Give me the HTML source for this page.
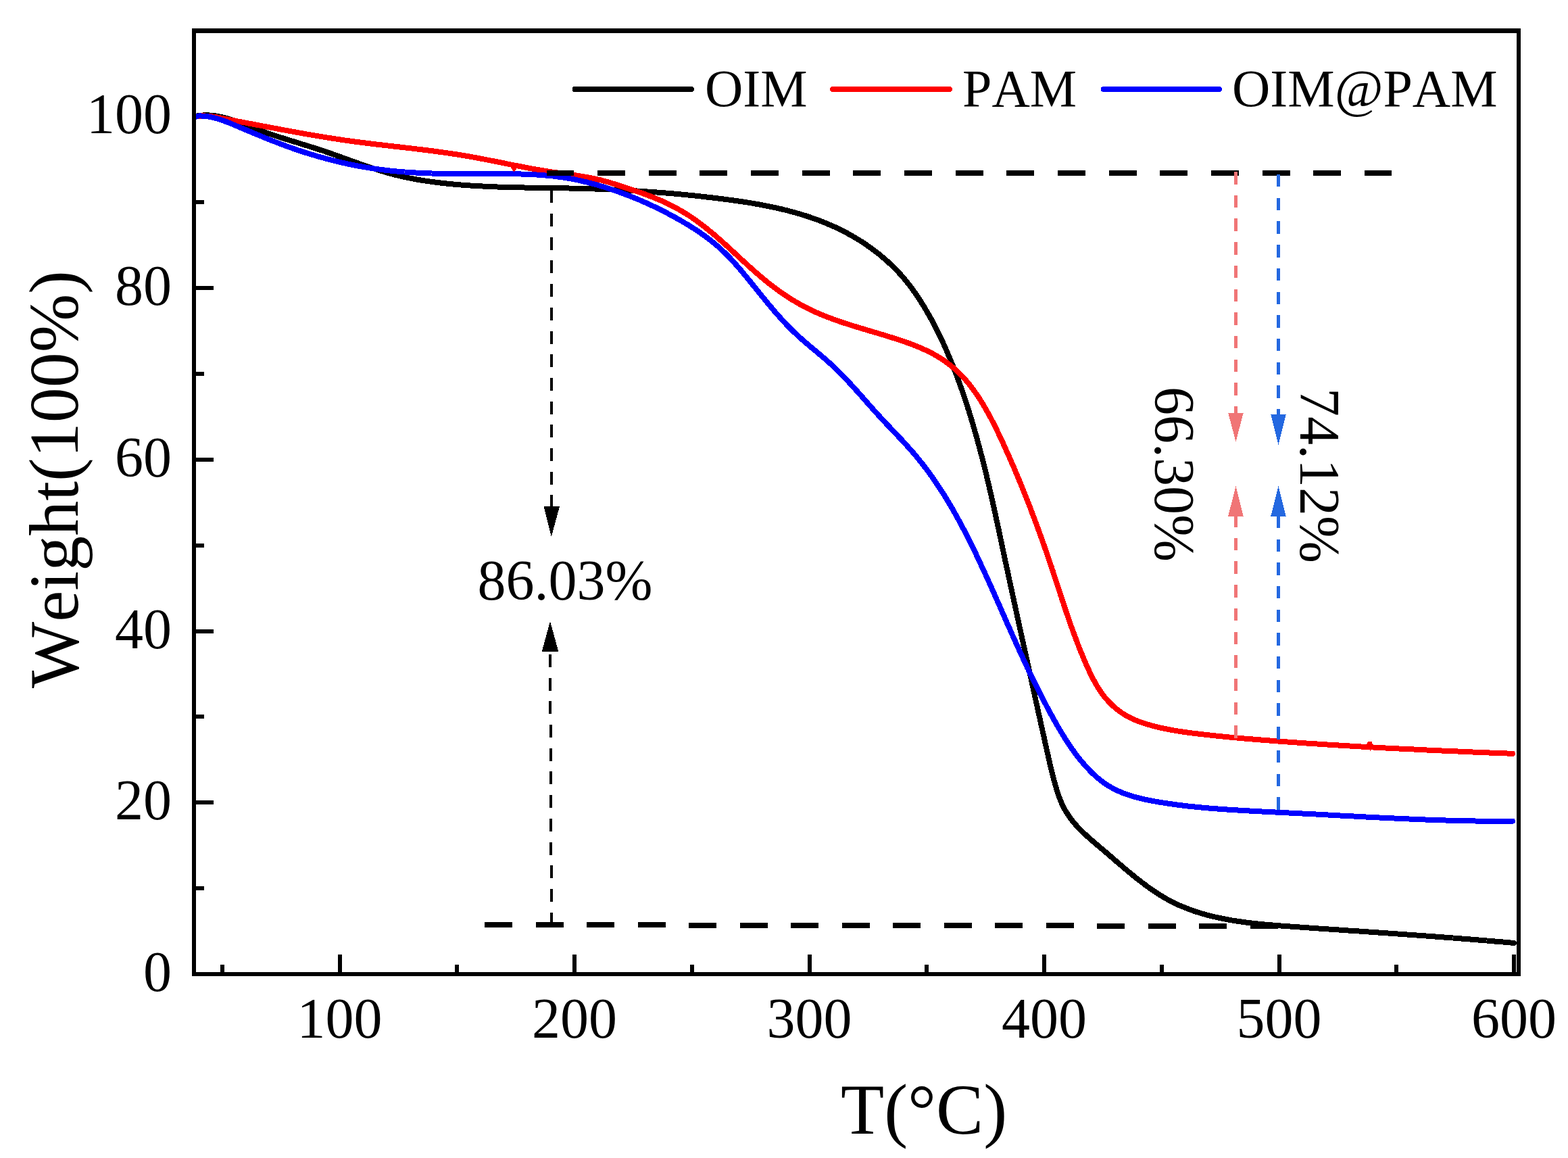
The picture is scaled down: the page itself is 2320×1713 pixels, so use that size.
<!DOCTYPE html>
<html><head><meta charset="utf-8"><title>TGA</title>
<style>html,body{margin:0;padding:0;background:#fff;}svg{display:block;}path,rect{shape-rendering:crispEdges;}text{font-family:"Liberation Serif","Times New Roman",serif;fill:#000;font-kerning:none;font-feature-settings:"kern" 0,"liga" 0;}</style>
</head><body>
<svg width="2320" height="1713" viewBox="0 0 2320 1713">
<rect width="2320" height="1713" fill="#fff"/>
<path d="M328.8,1441V1426.5 M502.5,1441V1412.0 M676.2,1441V1426.5 M850.0,1441V1412.0 M1023.8,1441V1426.5 M1197.5,1441V1412.0 M1371.2,1441V1426.5 M1545.0,1441V1412.0 M1718.8,1441V1426.5 M1892.5,1441V1412.0 M2066.2,1441V1426.5 M2240.0,1441V1412.0 M287,1314.12H301.5 M287,1187.25H316.0 M287,1060.38H301.5 M287,933.50H316.0 M287,806.62H301.5 M287,679.75H316.0 M287,552.88H301.5 M287,426.00H316.0 M287,299.12H301.5 M287,172.25H316.0 M287,45.38H301.5" stroke="#000" stroke-width="6" fill="none"/>
<text x="254" y="1466.0" font-size="84" text-anchor="end">0</text>
<text x="254" y="1212.2" font-size="84" text-anchor="end">20</text>
<text x="254" y="958.5" font-size="84" text-anchor="end">40</text>
<text x="254" y="704.8" font-size="84" text-anchor="end">60</text>
<text x="254" y="451.0" font-size="84" text-anchor="end">80</text>
<text x="254" y="197.2" font-size="84" text-anchor="end">100</text>
<text x="502.5" y="1535" font-size="84" text-anchor="middle">100</text>
<text x="850.0" y="1535" font-size="84" text-anchor="middle">200</text>
<text x="1197.5" y="1535" font-size="84" text-anchor="middle">300</text>
<text x="1545.0" y="1535" font-size="84" text-anchor="middle">400</text>
<text x="1892.5" y="1535" font-size="84" text-anchor="middle">500</text>
<text x="2240.0" y="1535" font-size="84" text-anchor="middle">600</text>
<text x="1244" y="1677" font-size="105">T(°C)</text>
<text transform="translate(115,1018) rotate(-90)" font-size="104">Weight(100%)</text>
<g fill="none" stroke-width="8" stroke-linejoin="round" stroke-linecap="round">
<path d="M290.0,172.5L291.8,171.4 293.8,171.1 295.8,170.8 297.8,170.7 299.7,170.5 301.7,170.4 303.7,170.4 305.7,170.4 307.6,170.4 309.6,170.5 311.6,170.6 313.5,170.8 315.5,171.0 317.4,171.2 319.4,171.5 321.3,171.8 323.3,172.2 325.2,172.6 327.2,173.0 329.1,173.4 331.1,173.9 333.0,174.4 334.9,174.9 336.9,175.4 338.8,176.0 340.7,176.6 342.6,177.2 344.6,177.8 346.5,178.4 348.4,179.1 350.3,179.8 352.2,180.5 354.1,181.1 356.0,181.9 357.9,182.6 359.9,183.3 361.8,184.0 363.7,184.8 365.6,185.5 367.5,186.2 369.4,187.0 371.3,187.7 373.1,188.5 375.0,189.2 376.9,189.9 378.8,190.6 380.7,191.4 382.6,192.1 384.5,192.8 386.4,193.5 388.3,194.2 390.1,194.8 392.0,195.5 393.9,196.2 395.8,196.8 397.7,197.5 399.5,198.1 401.4,198.8 403.3,199.4 405.2,200.0 407.1,200.7 408.9,201.3 410.8,201.9 412.7,202.5 414.6,203.1 416.4,203.7 418.3,204.3 420.2,204.9 422.1,205.5 423.9,206.1 425.8,206.7 427.7,207.3 429.5,207.8 431.4,208.4 433.3,209.0 435.2,209.6 437.0,210.2 438.9,210.7 440.8,211.3 442.7,211.9 444.5,212.5 446.4,213.1 448.3,213.6 450.2,214.2 452.0,214.8 453.9,215.4 455.8,216.0 457.7,216.6 459.5,217.2 461.4,217.7 463.3,218.3 465.2,218.9 467.1,219.5 468.9,220.1 470.8,220.8 472.7,221.4 474.6,222.0 476.5,222.6 478.4,223.2 480.3,223.9 482.2,224.5 484.0,225.2 485.9,225.8 487.8,226.5 489.7,227.1 491.6,227.8 493.5,228.5 495.4,229.1 497.3,229.8 499.2,230.5 501.1,231.2 503.0,231.9 504.9,232.5 506.8,233.2 508.7,233.9 510.7,234.6 512.6,235.3 514.5,236.0 516.4,236.7 518.3,237.4 520.2,238.0 522.1,238.7 524.0,239.4 526.0,240.1 527.9,240.8 529.8,241.5 531.7,242.2 533.6,242.8 535.6,243.5 537.5,244.2 539.4,244.8 541.3,245.5 543.3,246.2 545.2,246.8 547.1,247.5 549.1,248.1 551.0,248.8 552.9,249.4 554.9,250.0 556.8,250.6 558.7,251.3 560.7,251.9 562.6,252.5 564.5,253.1 566.5,253.6 568.4,254.2 570.4,254.8 572.3,255.3 574.2,255.9 576.2,256.4 578.1,257.0 580.1,257.5 582.0,258.0 584.0,258.5 585.9,259.0 587.9,259.5 589.8,259.9 591.8,260.4 593.7,260.9 595.7,261.3 597.6,261.7 599.6,262.2 601.5,262.6 603.5,263.0 605.4,263.4 607.4,263.8 609.4,264.1 611.3,264.5 613.3,264.9 615.2,265.2 617.2,265.6 619.2,265.9 621.1,266.2 623.1,266.6 625.0,266.9 627.0,267.2 629.0,267.5 630.9,267.8 632.9,268.1 634.9,268.4 636.8,268.6 638.8,268.9 640.8,269.2 642.8,269.4 644.7,269.7 646.7,269.9 648.7,270.2 650.6,270.4 652.6,270.6 654.6,270.9 656.6,271.1 658.5,271.3 660.5,271.5 662.5,271.7 664.5,271.9 666.5,272.1 668.4,272.3 670.4,272.5 672.4,272.7 674.4,272.8 676.3,273.0 678.3,273.2 680.3,273.4 682.3,273.5 684.3,273.7 686.3,273.8 688.2,274.0 690.2,274.1 692.2,274.2 694.2,274.4 696.2,274.5 698.2,274.6 700.2,274.8 702.1,274.9 704.1,275.0 706.1,275.1 708.1,275.2 710.1,275.3 712.1,275.4 714.1,275.5 716.1,275.6 718.1,275.7 720.0,275.8 722.0,275.9 724.0,276.0 726.0,276.1 728.0,276.2 730.0,276.2 732.0,276.3 734.0,276.4 736.0,276.5 738.0,276.5 740.0,276.6 742.0,276.7 744.0,276.7 746.0,276.8 748.0,276.8 750.0,276.9 751.9,276.9 753.9,277.0 755.9,277.0 757.9,277.1 759.9,277.1 761.9,277.2 763.9,277.2 765.9,277.3 767.9,277.3 769.9,277.3 771.9,277.4 773.9,277.4 775.9,277.5 777.9,277.5 779.9,277.5 781.9,277.6 783.9,277.6 785.9,277.6 787.9,277.7 789.9,277.7 791.9,277.7 793.9,277.7 795.9,277.8 797.9,277.8 799.9,277.8 801.9,277.9 803.9,277.9 805.9,277.9 807.9,277.9 809.9,278.0 811.9,278.0 813.9,278.0 815.9,278.1 817.9,278.1 819.9,278.1 821.9,278.1 823.9,278.2 825.9,278.2 827.9,278.2 829.9,278.3 831.9,278.3 833.9,278.3 835.9,278.4 837.9,278.4 839.9,278.4 841.9,278.5 844.0,278.5 846.0,278.6 848.0,278.6 850.0,278.7 852.0,278.7 854.0,278.7 856.0,278.8 858.0,278.8 860.0,278.9 862.0,278.9 864.0,279.0 866.0,279.1 868.0,279.1 870.0,279.2 872.0,279.2 874.0,279.3 876.0,279.4 878.0,279.4 880.0,279.5 882.0,279.6 884.0,279.6 886.0,279.7 888.0,279.8 890.0,279.9 892.0,279.9 894.0,280.0 896.0,280.1 898.0,280.2 900.0,280.3 901.9,280.3 903.9,280.4 905.9,280.5 907.9,280.6 909.9,280.7 911.9,280.8 913.9,280.9 915.9,281.0 917.9,281.1 919.9,281.2 921.9,281.3 923.9,281.4 925.9,281.5 927.9,281.6 929.9,281.7 931.9,281.8 933.9,282.0 935.9,282.1 937.9,282.2 939.9,282.3 941.9,282.4 943.9,282.6 945.9,282.7 947.9,282.8 949.9,282.9 951.9,283.1 953.9,283.2 955.9,283.3 957.9,283.5 959.9,283.6 961.9,283.8 963.9,283.9 965.9,284.0 967.8,284.2 969.8,284.3 971.8,284.5 973.8,284.6 975.8,284.8 977.8,284.9 979.8,285.1 981.8,285.3 983.8,285.4 985.8,285.6 987.8,285.8 989.8,285.9 991.8,286.1 993.8,286.3 995.8,286.4 997.8,286.6 999.8,286.8 1001.8,287.0 1003.7,287.1 1005.7,287.3 1007.7,287.5 1009.7,287.7 1011.7,287.9 1013.7,288.1 1015.7,288.3 1017.7,288.5 1019.7,288.7 1021.7,288.9 1023.7,289.1 1025.7,289.3 1027.7,289.5 1029.6,289.7 1031.6,289.9 1033.6,290.1 1035.6,290.3 1037.6,290.6 1039.6,290.8 1041.6,291.0 1043.6,291.2 1045.6,291.5 1047.6,291.7 1049.6,291.9 1051.5,292.2 1053.5,292.4 1055.5,292.6 1057.5,292.9 1059.5,293.1 1061.5,293.4 1063.5,293.6 1065.5,293.9 1067.5,294.1 1069.4,294.4 1071.4,294.6 1073.4,294.9 1075.4,295.1 1077.4,295.4 1079.4,295.7 1081.4,295.9 1083.4,296.2 1085.3,296.5 1087.3,296.8 1089.3,297.0 1091.3,297.3 1093.3,297.6 1095.3,297.9 1097.3,298.2 1099.2,298.5 1101.2,298.8 1103.2,299.1 1105.2,299.4 1107.2,299.7 1109.1,300.1 1111.1,300.4 1113.1,300.7 1115.1,301.1 1117.0,301.4 1119.0,301.7 1121.0,302.1 1122.9,302.4 1124.9,302.8 1126.9,303.2 1128.8,303.5 1130.8,303.9 1132.8,304.3 1134.7,304.7 1136.7,305.1 1138.6,305.5 1140.6,305.9 1142.5,306.3 1144.5,306.7 1146.5,307.1 1148.4,307.6 1150.3,308.0 1152.3,308.4 1154.2,308.9 1156.2,309.3 1158.1,309.8 1160.0,310.3 1162.0,310.7 1163.9,311.2 1165.8,311.7 1167.8,312.2 1169.7,312.7 1171.6,313.2 1173.5,313.8 1175.5,314.3 1177.4,314.8 1179.3,315.4 1181.2,315.9 1183.1,316.5 1185.0,317.0 1186.9,317.6 1188.8,318.2 1190.7,318.8 1192.6,319.4 1194.5,320.0 1196.4,320.6 1198.3,321.3 1200.1,321.9 1202.0,322.6 1203.9,323.2 1205.8,323.9 1207.6,324.6 1209.5,325.2 1211.4,325.9 1213.2,326.6 1215.1,327.4 1216.9,328.1 1218.8,328.8 1220.6,329.6 1222.5,330.3 1224.3,331.1 1226.2,331.9 1228.0,332.6 1229.8,333.4 1231.6,334.3 1233.5,335.1 1235.3,335.9 1237.1,336.7 1238.9,337.6 1240.7,338.5 1242.5,339.3 1244.3,340.2 1246.1,341.1 1247.9,342.0 1249.7,343.0 1251.5,343.9 1253.2,344.8 1255.0,345.8 1256.8,346.8 1258.5,347.8 1260.3,348.8 1262.1,349.8 1263.8,350.8 1265.6,351.8 1267.3,352.9 1269.0,353.9 1270.7,355.0 1272.5,356.0 1274.2,357.1 1275.9,358.2 1277.6,359.3 1279.3,360.5 1281.0,361.6 1282.6,362.7 1284.3,363.9 1286.0,365.1 1287.6,366.2 1289.3,367.4 1290.9,368.6 1292.5,369.8 1294.2,371.1 1295.8,372.3 1297.4,373.5 1299.0,374.8 1300.6,376.0 1302.1,377.3 1303.7,378.6 1305.3,379.9 1306.8,381.2 1308.3,382.5 1309.9,383.8 1311.4,385.1 1312.9,386.5 1314.4,387.8 1315.8,389.2 1317.3,390.5 1318.8,391.9 1320.2,393.3 1321.6,394.7 1323.0,396.1 1324.5,397.5 1325.8,398.9 1327.2,400.4 1328.6,401.8 1329.9,403.3 1331.3,404.7 1332.6,406.2 1333.9,407.7 1335.2,409.1 1336.5,410.6 1337.8,412.1 1339.0,413.6 1340.3,415.1 1341.5,416.7 1342.7,418.2 1343.9,419.7 1345.1,421.3 1346.3,422.8 1347.5,424.4 1348.7,426.0 1349.8,427.5 1351.0,429.1 1352.1,430.7 1353.2,432.3 1354.4,433.9 1355.5,435.5 1356.6,437.1 1357.7,438.8 1358.7,440.4 1359.8,442.0 1360.9,443.7 1362.0,445.3 1363.0,447.0 1364.1,448.7 1365.1,450.3 1366.1,452.0 1367.2,453.7 1368.2,455.4 1369.2,457.1 1370.2,458.8 1371.2,460.5 1372.2,462.2 1373.2,463.9 1374.2,465.7 1375.2,467.4 1376.1,469.1 1377.1,470.9 1378.1,472.6 1379.0,474.4 1379.9,476.1 1380.9,477.9 1381.8,479.6 1382.7,481.4 1383.7,483.2 1384.6,485.0 1385.5,486.8 1386.4,488.6 1387.3,490.3 1388.2,492.1 1389.1,493.9 1390.0,495.8 1390.8,497.6 1391.7,499.4 1392.6,501.2 1393.4,503.0 1394.3,504.8 1395.1,506.7 1396.0,508.5 1396.8,510.3 1397.6,512.2 1398.5,514.0 1399.3,515.9 1400.1,517.7 1400.9,519.6 1401.7,521.4 1402.5,523.3 1403.3,525.2 1404.1,527.0 1404.9,528.9 1405.6,530.8 1406.4,532.6 1407.2,534.5 1407.9,536.4 1408.7,538.3 1409.5,540.1 1410.2,542.0 1411.0,543.9 1411.7,545.8 1412.4,547.7 1413.2,549.6 1413.9,551.4 1414.6,553.3 1415.3,555.2 1416.0,557.1 1416.7,559.0 1417.4,560.9 1418.1,562.8 1418.8,564.7 1419.5,566.6 1420.2,568.5 1420.9,570.4 1421.6,572.3 1422.2,574.2 1422.9,576.1 1423.6,578.0 1424.2,579.9 1424.9,581.8 1425.5,583.7 1426.2,585.6 1426.8,587.5 1427.5,589.4 1428.1,591.3 1428.7,593.3 1429.4,595.2 1430.0,597.1 1430.6,599.0 1431.2,600.9 1431.8,602.8 1432.4,604.7 1433.1,606.6 1433.7,608.5 1434.3,610.4 1434.8,612.4 1435.4,614.3 1436.0,616.2 1436.6,618.1 1437.2,620.0 1437.8,621.9 1438.3,623.8 1438.9,625.8 1439.5,627.7 1440.0,629.6 1440.6,631.5 1441.2,633.4 1441.7,635.3 1442.3,637.3 1442.8,639.2 1443.4,641.1 1443.9,643.0 1444.5,644.9 1445.0,646.9 1445.5,648.8 1446.1,650.7 1446.6,652.6 1447.1,654.5 1447.6,656.5 1448.2,658.4 1448.7,660.3 1449.2,662.2 1449.7,664.2 1450.2,666.1 1450.7,668.0 1451.2,669.9 1451.7,671.9 1452.2,673.8 1452.7,675.7 1453.2,677.7 1453.7,679.6 1454.2,681.5 1454.7,683.4 1455.2,685.4 1455.7,687.3 1456.1,689.2 1456.6,691.2 1457.1,693.1 1457.6,695.0 1458.1,697.0 1458.5,698.9 1459.0,700.8 1459.5,702.8 1459.9,704.7 1460.4,706.6 1460.9,708.6 1461.3,710.5 1461.8,712.4 1462.2,714.4 1462.7,716.3 1463.1,718.2 1463.6,720.2 1464.0,722.1 1464.5,724.1 1464.9,726.0 1465.4,727.9 1465.8,729.9 1466.3,731.8 1466.7,733.7 1467.1,735.7 1467.6,737.6 1468.0,739.6 1468.5,741.5 1468.9,743.5 1469.3,745.4 1469.8,747.3 1470.2,749.3 1470.6,751.2 1471.0,753.2 1471.5,755.1 1471.9,757.0 1472.3,759.0 1472.8,760.9 1473.2,762.9 1473.6,764.8 1474.0,766.8 1474.4,768.7 1474.9,770.7 1475.3,772.6 1475.7,774.6 1476.1,776.5 1476.5,778.4 1477.0,780.4 1477.4,782.3 1477.8,784.3 1478.2,786.2 1478.6,788.2 1479.1,790.1 1479.5,792.1 1479.9,794.0 1480.3,796.0 1480.7,797.9 1481.1,799.9 1481.5,801.8 1482.0,803.8 1482.4,805.7 1482.8,807.7 1483.2,809.6 1483.6,811.6 1484.0,813.5 1484.4,815.5 1484.8,817.4 1485.3,819.4 1485.7,821.3 1486.1,823.3 1486.5,825.2 1486.9,827.2 1487.3,829.2 1487.8,831.1 1488.2,833.1 1488.6,835.0 1489.0,837.0 1489.4,838.9 1489.8,840.9 1490.3,842.8 1490.7,844.8 1491.1,846.7 1491.5,848.7 1491.9,850.7 1492.3,852.6 1492.8,854.6 1493.2,856.5 1493.6,858.5 1494.0,860.4 1494.5,862.4 1494.9,864.3 1495.3,866.3 1495.7,868.3 1496.1,870.2 1496.6,872.2 1497.0,874.1 1497.4,876.1 1497.8,878.0 1498.3,880.0 1498.7,882.0 1499.1,883.9 1499.5,885.9 1500.0,887.8 1500.4,889.8 1500.8,891.8 1501.2,893.7 1501.7,895.7 1502.1,897.6 1502.5,899.6 1502.9,901.6 1503.4,903.5 1503.8,905.5 1504.2,907.4 1504.7,909.4 1505.1,911.3 1505.5,913.3 1505.9,915.3 1506.4,917.2 1506.8,919.2 1507.2,921.2 1507.7,923.1 1508.1,925.1 1508.5,927.0 1509.0,929.0 1509.4,931.0 1509.8,932.9 1510.3,934.9 1510.7,936.8 1511.1,938.8 1511.5,940.8 1512.0,942.7 1512.4,944.7 1512.8,946.6 1513.3,948.6 1513.7,950.6 1514.1,952.5 1514.6,954.5 1515.0,956.4 1515.4,958.4 1515.9,960.4 1516.3,962.3 1516.7,964.3 1517.2,966.3 1517.6,968.2 1518.0,970.2 1518.5,972.1 1518.9,974.1 1519.3,976.1 1519.8,978.0 1520.2,980.0 1520.6,982.0 1521.1,983.9 1521.5,985.9 1521.9,987.8 1522.4,989.8 1522.8,991.8 1523.2,993.7 1523.7,995.7 1524.1,997.6 1524.5,999.6 1525.0,1001.6 1525.4,1003.5 1525.8,1005.5 1526.2,1007.5 1526.7,1009.4 1527.1,1011.4 1527.5,1013.3 1528.0,1015.3 1528.4,1017.3 1528.8,1019.2 1529.3,1021.2 1529.7,1023.1 1530.1,1025.1 1530.6,1027.1 1531.0,1029.0 1531.4,1031.0 1531.9,1033.0 1532.3,1034.9 1532.7,1036.9 1533.2,1038.8 1533.6,1040.8 1534.0,1042.8 1534.5,1044.7 1534.9,1046.7 1535.3,1048.6 1535.8,1050.6 1536.2,1052.6 1536.6,1054.5 1537.1,1056.5 1537.5,1058.4 1537.9,1060.4 1538.4,1062.4 1538.8,1064.3 1539.2,1066.3 1539.7,1068.2 1540.1,1070.2 1540.5,1072.2 1541.0,1074.1 1541.4,1076.1 1541.8,1078.0 1542.3,1080.0 1542.7,1081.9 1543.1,1083.9 1543.6,1085.9 1544.0,1087.8 1544.5,1089.8 1544.9,1091.7 1545.3,1093.7 1545.8,1095.7 1546.2,1097.6 1546.6,1099.6 1547.1,1101.5 1547.5,1103.5 1547.9,1105.4 1548.4,1107.4 1548.8,1109.4 1549.3,1111.3 1549.7,1113.3 1550.1,1115.2 1550.6,1117.2 1551.0,1119.1 1551.5,1121.1 1551.9,1123.0 1552.3,1125.0 1552.8,1126.9 1553.2,1128.9 1553.7,1130.8 1554.1,1132.8 1554.6,1134.7 1555.1,1136.7 1555.5,1138.6 1556.0,1140.5 1556.5,1142.5 1556.9,1144.4 1557.4,1146.3 1557.9,1148.3 1558.4,1150.2 1558.9,1152.1 1559.4,1154.0 1560.0,1155.9 1560.5,1157.8 1561.0,1159.7 1561.6,1161.6 1562.1,1163.5 1562.7,1165.4 1563.3,1167.3 1563.8,1169.1 1564.4,1171.0 1565.0,1172.8 1565.6,1174.7 1566.3,1176.5 1566.9,1178.4 1567.6,1180.2 1568.3,1182.0 1569.0,1183.8 1569.7,1185.6 1570.5,1187.4 1571.3,1189.2 1572.1,1191.0 1573.0,1192.8 1573.9,1194.6 1574.8,1196.3 1575.8,1198.1 1576.8,1199.8 1577.8,1201.5 1578.9,1203.2 1580.0,1204.9 1581.1,1206.6 1582.2,1208.2 1583.4,1209.9 1584.6,1211.5 1585.8,1213.1 1587.1,1214.7 1588.4,1216.2 1589.6,1217.8 1591.0,1219.3 1592.3,1220.8 1593.6,1222.3 1595.0,1223.7 1596.3,1225.1 1597.7,1226.6 1599.1,1228.0 1600.5,1229.4 1601.9,1230.8 1603.4,1232.1 1604.8,1233.5 1606.2,1234.8 1607.7,1236.2 1609.1,1237.5 1610.6,1238.8 1612.1,1240.1 1613.5,1241.4 1615.0,1242.7 1616.5,1244.0 1618.0,1245.3 1619.5,1246.6 1621.0,1247.9 1622.5,1249.2 1624.0,1250.4 1625.5,1251.7 1627.0,1253.0 1628.5,1254.3 1630.0,1255.6 1631.6,1256.8 1633.1,1258.1 1634.6,1259.4 1636.1,1260.7 1637.6,1262.0 1639.2,1263.3 1640.7,1264.6 1642.2,1265.9 1643.7,1267.2 1645.3,1268.6 1646.8,1269.9 1648.3,1271.2 1649.8,1272.5 1651.4,1273.8 1652.9,1275.2 1654.4,1276.5 1656.0,1277.8 1657.5,1279.1 1659.1,1280.4 1660.6,1281.7 1662.1,1283.1 1663.7,1284.4 1665.2,1285.7 1666.8,1287.0 1668.3,1288.3 1669.9,1289.6 1671.5,1290.9 1673.0,1292.2 1674.6,1293.5 1676.2,1294.7 1677.7,1296.0 1679.3,1297.3 1680.9,1298.6 1682.5,1299.8 1684.1,1301.1 1685.7,1302.3 1687.3,1303.6 1688.9,1304.8 1690.5,1306.0 1692.1,1307.2 1693.7,1308.4 1695.3,1309.6 1696.9,1310.8 1698.5,1312.0 1700.2,1313.2 1701.8,1314.3 1703.5,1315.5 1705.1,1316.6 1706.8,1317.8 1708.4,1318.9 1710.1,1320.0 1711.8,1321.1 1713.4,1322.2 1715.1,1323.2 1716.8,1324.3 1718.5,1325.3 1720.2,1326.3 1721.9,1327.3 1723.6,1328.3 1725.3,1329.3 1727.0,1330.3 1728.8,1331.2 1730.5,1332.2 1732.3,1333.1 1734.0,1334.0 1735.8,1334.9 1737.5,1335.7 1739.3,1336.6 1741.1,1337.4 1742.9,1338.3 1744.7,1339.1 1746.5,1339.9 1748.3,1340.6 1750.1,1341.4 1751.9,1342.1 1753.7,1342.9 1755.5,1343.6 1757.4,1344.3 1759.2,1345.0 1761.0,1345.7 1762.9,1346.4 1764.7,1347.0 1766.6,1347.7 1768.5,1348.3 1770.3,1348.9 1772.2,1349.5 1774.1,1350.1 1776.0,1350.7 1777.8,1351.2 1779.7,1351.8 1781.6,1352.3 1783.5,1352.9 1785.4,1353.4 1787.4,1353.9 1789.3,1354.4 1791.2,1354.9 1793.1,1355.4 1795.0,1355.8 1797.0,1356.3 1798.9,1356.7 1800.8,1357.2 1802.8,1357.6 1804.7,1358.0 1806.7,1358.4 1808.6,1358.8 1810.6,1359.2 1812.6,1359.6 1814.5,1360.0 1816.5,1360.3 1818.5,1360.7 1820.4,1361.0 1822.4,1361.4 1824.4,1361.7 1826.4,1362.0 1828.3,1362.3 1830.3,1362.6 1832.3,1362.9 1834.3,1363.2 1836.3,1363.5 1838.3,1363.8 1840.3,1364.1 1842.3,1364.3 1844.3,1364.6 1846.3,1364.8 1848.3,1365.1 1850.3,1365.3 1852.3,1365.6 1854.3,1365.8 1856.3,1366.0 1858.3,1366.2 1860.4,1366.4 1862.4,1366.7 1864.4,1366.9 1866.4,1367.1 1868.4,1367.3 1870.4,1367.5 1872.5,1367.6 1874.5,1367.8 1876.5,1368.0 1878.5,1368.2 1880.5,1368.4 1882.6,1368.5 1884.6,1368.7 1886.6,1368.9 1888.6,1369.0 1890.7,1369.2 1892.7,1369.3 1894.7,1369.5 1896.7,1369.6 1898.7,1369.8 1900.8,1369.9 1902.8,1370.1 1904.8,1370.2 1906.8,1370.4 1908.9,1370.5 1910.9,1370.7 1912.9,1370.8 1914.9,1370.9 1916.9,1371.1 1918.9,1371.2 1921.0,1371.4 1923.0,1371.5 1925.0,1371.7 1927.0,1371.8 1929.0,1371.9 1931.0,1372.1 1933.0,1372.2 1935.0,1372.4 1937.0,1372.5 1939.0,1372.6 1941.0,1372.8 1943.0,1372.9 1945.1,1373.0 1947.1,1373.2 1949.1,1373.3 1951.1,1373.5 1953.1,1373.6 1955.1,1373.7 1957.1,1373.9 1959.1,1374.0 1961.0,1374.1 1963.0,1374.3 1965.0,1374.4 1967.0,1374.6 1969.0,1374.7 1971.0,1374.8 1973.0,1375.0 1975.0,1375.1 1977.0,1375.2 1979.0,1375.4 1981.0,1375.5 1983.0,1375.6 1985.0,1375.8 1987.0,1375.9 1988.9,1376.1 1990.9,1376.2 1992.9,1376.3 1994.9,1376.5 1996.9,1376.6 1998.9,1376.7 2000.9,1376.9 2002.8,1377.0 2004.8,1377.1 2006.8,1377.3 2008.8,1377.4 2010.8,1377.5 2012.8,1377.7 2014.7,1377.8 2016.7,1377.9 2018.7,1378.1 2020.7,1378.2 2022.7,1378.4 2024.7,1378.5 2026.6,1378.6 2028.6,1378.8 2030.6,1378.9 2032.6,1379.0 2034.6,1379.2 2036.5,1379.3 2038.5,1379.4 2040.5,1379.6 2042.5,1379.7 2044.4,1379.9 2046.4,1380.0 2048.4,1380.1 2050.4,1380.3 2052.4,1380.4 2054.3,1380.5 2056.3,1380.7 2058.3,1380.8 2060.3,1381.0 2062.3,1381.1 2064.2,1381.2 2066.2,1381.4 2068.2,1381.5 2070.2,1381.6 2072.1,1381.8 2074.1,1381.9 2076.1,1382.1 2078.1,1382.2 2080.1,1382.3 2082.0,1382.5 2084.0,1382.6 2086.0,1382.8 2088.0,1382.9 2089.9,1383.1 2091.9,1383.2 2093.9,1383.3 2095.9,1383.5 2097.9,1383.6 2099.8,1383.8 2101.8,1383.9 2103.8,1384.1 2105.8,1384.2 2107.8,1384.3 2109.8,1384.5 2111.7,1384.6 2113.7,1384.8 2115.7,1384.9 2117.7,1385.1 2119.7,1385.2 2121.6,1385.4 2123.6,1385.5 2125.6,1385.7 2127.6,1385.8 2129.6,1386.0 2131.6,1386.1 2133.6,1386.3 2135.5,1386.4 2137.5,1386.6 2139.5,1386.7 2141.5,1386.9 2143.5,1387.0 2145.5,1387.2 2147.5,1387.3 2149.5,1387.5 2151.5,1387.6 2153.4,1387.8 2155.4,1387.9 2157.4,1388.1 2159.4,1388.2 2161.4,1388.4 2163.4,1388.6 2165.4,1388.7 2167.4,1388.9 2169.4,1389.0 2171.4,1389.2 2173.4,1389.3 2175.4,1389.5 2177.4,1389.7 2179.4,1389.8 2181.4,1390.0 2183.4,1390.2 2185.4,1390.3 2187.4,1390.5 2189.4,1390.6 2191.4,1390.8 2193.4,1391.0 2195.4,1391.1 2197.4,1391.3 2199.5,1391.5 2201.5,1391.6 2203.5,1391.8 2205.5,1392.0 2207.5,1392.2 2209.5,1392.3 2211.5,1392.5 2213.5,1392.7 2215.6,1392.8 2217.6,1393.0 2219.6,1393.2 2221.6,1393.4 2223.6,1393.5 2225.7,1393.7 2227.7,1393.9 2229.7,1394.1 2231.7,1394.2 2233.8,1394.4 2235.8,1394.6 2237.8,1394.8 2239.9,1395.0 2240.0,1394.8" stroke="#000"/>
<path d="M290.0,172.5L292.2,172.0 294.1,171.8 296.1,171.6 298.0,171.5 300.0,171.4 302.0,171.4 303.9,171.5 305.9,171.5 307.8,171.7 309.8,171.8 311.8,172.1 313.7,172.3 315.7,172.6 317.7,172.9 319.6,173.2 321.6,173.5 323.5,173.9 325.5,174.2 327.5,174.6 329.4,175.0 331.4,175.4 333.4,175.8 335.3,176.2 337.3,176.6 339.3,177.0 341.2,177.4 343.2,177.8 345.2,178.1 347.1,178.5 349.1,178.9 351.1,179.3 353.0,179.7 355.0,180.0 357.0,180.4 358.9,180.8 360.9,181.2 362.9,181.5 364.8,181.9 366.8,182.3 368.8,182.7 370.7,183.0 372.7,183.4 374.7,183.8 376.6,184.2 378.6,184.5 380.6,184.9 382.5,185.3 384.5,185.6 386.5,186.0 388.4,186.4 390.4,186.8 392.4,187.1 394.4,187.5 396.3,187.9 398.3,188.2 400.3,188.6 402.2,189.0 404.2,189.4 406.2,189.7 408.2,190.1 410.1,190.5 412.1,190.8 414.1,191.2 416.0,191.6 418.0,191.9 420.0,192.3 422.0,192.7 423.9,193.0 425.9,193.4 427.9,193.8 429.8,194.1 431.8,194.5 433.8,194.8 435.8,195.2 437.7,195.6 439.7,195.9 441.7,196.3 443.7,196.6 445.6,197.0 447.6,197.3 449.6,197.7 451.6,198.0 453.5,198.4 455.5,198.7 457.5,199.1 459.5,199.4 461.4,199.7 463.4,200.1 465.4,200.4 467.4,200.8 469.3,201.1 471.3,201.4 473.3,201.7 475.3,202.1 477.2,202.4 479.2,202.7 481.2,203.0 483.2,203.4 485.1,203.7 487.1,204.0 489.1,204.3 491.1,204.6 493.0,204.9 495.0,205.2 497.0,205.5 499.0,205.8 500.9,206.1 502.9,206.4 504.9,206.7 506.9,207.0 508.8,207.3 510.8,207.6 512.8,207.9 514.8,208.1 516.8,208.4 518.7,208.7 520.7,209.0 522.7,209.2 524.7,209.5 526.6,209.8 528.6,210.0 530.6,210.3 532.6,210.5 534.6,210.8 536.5,211.0 538.5,211.3 540.5,211.5 542.5,211.8 544.4,212.0 546.4,212.3 548.4,212.5 550.4,212.8 552.4,213.0 554.3,213.2 556.3,213.5 558.3,213.7 560.3,213.9 562.2,214.2 564.2,214.4 566.2,214.6 568.2,214.9 570.2,215.1 572.1,215.3 574.1,215.5 576.1,215.8 578.1,216.0 580.0,216.2 582.0,216.4 584.0,216.7 586.0,216.9 588.0,217.1 589.9,217.3 591.9,217.6 593.9,217.8 595.9,218.0 597.9,218.2 599.8,218.5 601.8,218.7 603.8,218.9 605.8,219.2 607.7,219.4 609.7,219.6 611.7,219.9 613.7,220.1 615.7,220.3 617.6,220.6 619.6,220.8 621.6,221.0 623.6,221.3 625.5,221.5 627.5,221.8 629.5,222.0 631.5,222.3 633.5,222.5 635.4,222.8 637.4,223.0 639.4,223.3 641.4,223.5 643.4,223.8 645.3,224.0 647.3,224.3 649.3,224.6 651.3,224.8 653.2,225.1 655.2,225.4 657.2,225.7 659.2,225.9 661.2,226.2 663.1,226.5 665.1,226.8 667.1,227.1 669.1,227.4 671.0,227.7 673.0,228.0 675.0,228.3 677.0,228.6 678.9,228.9 680.9,229.2 682.9,229.6 684.9,229.9 686.9,230.2 688.8,230.6 690.8,230.9 692.8,231.2 694.8,231.6 696.7,231.9 698.7,232.3 700.7,232.6 702.7,233.0 704.6,233.4 706.6,233.7 708.6,234.1 710.6,234.5 712.5,234.9 714.5,235.2 716.5,235.6 718.5,236.0 720.4,236.4 722.4,236.8 724.4,237.2 726.4,237.6 728.3,237.9 730.3,238.3 732.3,238.7 734.3,239.1 736.2,239.5 738.2,239.9 740.2,240.3 742.2,240.7 744.1,241.1 746.1,241.5 748.1,241.9 750.1,242.3 752.0,242.7 754.0,243.1 756.0,243.5 758.0,243.9 759.9,244.3 761.9,244.7 763.9,245.1 765.8,245.4 767.8,245.8 769.8,246.2 771.8,246.6 773.7,247.0 775.7,247.4 777.7,247.7 779.7,248.1 781.6,248.5 783.6,248.8 785.6,249.2 787.5,249.6 789.5,249.9 791.5,250.3 793.4,250.6 795.4,251.0 797.4,251.3 799.4,251.6 801.3,252.0 803.3,252.3 805.3,252.6 807.2,253.0 809.2,253.3 811.2,253.6 813.1,253.9 815.1,254.2 817.1,254.5 819.1,254.8 821.0,255.0 823.0,255.3 825.0,255.6 826.9,255.9 828.9,256.2 830.9,256.4 832.8,256.7 834.8,257.0 836.7,257.2 838.7,257.5 840.7,257.8 842.6,258.1 844.6,258.4 846.6,258.6 848.5,258.9 850.5,259.2 852.4,259.5 854.4,259.8 856.4,260.1 858.3,260.4 860.3,260.7 862.2,261.1 864.2,261.4 866.1,261.7 868.1,262.1 870.0,262.4 872.0,262.8 873.9,263.2 875.9,263.6 877.8,264.0 879.8,264.4 881.7,264.8 883.7,265.2 885.6,265.7 887.5,266.1 889.5,266.6 891.4,267.1 893.3,267.6 895.3,268.1 897.2,268.6 899.1,269.1 901.1,269.7 903.0,270.3 904.9,270.9 906.8,271.5 908.8,272.1 910.7,272.7 912.6,273.3 914.5,274.0 916.4,274.6 918.4,275.3 920.3,275.9 922.2,276.6 924.1,277.2 926.0,277.8 927.9,278.5 929.8,279.1 931.7,279.7 933.6,280.3 935.5,281.0 937.4,281.6 939.3,282.2 941.2,282.8 943.1,283.4 944.9,284.1 946.8,284.7 948.7,285.3 950.6,286.0 952.4,286.7 954.3,287.3 956.2,288.0 958.1,288.7 959.9,289.4 961.8,290.1 963.6,290.8 965.5,291.5 967.3,292.3 969.2,293.0 971.0,293.8 972.9,294.6 974.7,295.3 976.5,296.1 978.4,296.9 980.2,297.7 982.0,298.6 983.8,299.4 985.6,300.2 987.4,301.1 989.2,302.0 991.0,302.8 992.8,303.7 994.5,304.6 996.3,305.6 998.1,306.5 999.8,307.4 1001.6,308.4 1003.3,309.3 1005.1,310.3 1006.8,311.3 1008.5,312.3 1010.2,313.3 1011.9,314.3 1013.6,315.4 1015.3,316.4 1017.0,317.5 1018.7,318.5 1020.4,319.6 1022.0,320.7 1023.7,321.8 1025.3,322.9 1027.0,324.1 1028.6,325.2 1030.2,326.4 1031.8,327.5 1033.4,328.7 1035.0,329.9 1036.6,331.1 1038.2,332.3 1039.8,333.5 1041.4,334.8 1043.0,336.0 1044.5,337.2 1046.1,338.5 1047.7,339.7 1049.2,341.0 1050.8,342.3 1052.3,343.6 1053.8,344.8 1055.4,346.1 1056.9,347.4 1058.4,348.7 1059.9,350.1 1061.5,351.4 1063.0,352.7 1064.5,354.0 1066.0,355.4 1067.5,356.7 1069.0,358.0 1070.5,359.4 1072.0,360.7 1073.5,362.1 1075.0,363.4 1076.5,364.8 1077.9,366.1 1079.4,367.5 1080.9,368.9 1082.4,370.2 1083.9,371.6 1085.4,373.0 1086.8,374.3 1088.3,375.7 1089.8,377.1 1091.3,378.4 1092.7,379.8 1094.2,381.2 1095.7,382.5 1097.2,383.9 1098.7,385.3 1100.1,386.6 1101.6,388.0 1103.1,389.3 1104.6,390.7 1106.1,392.1 1107.5,393.4 1109.0,394.7 1110.5,396.1 1112.0,397.4 1113.5,398.8 1115.0,400.1 1116.5,401.4 1118.0,402.7 1119.5,404.0 1121.0,405.3 1122.5,406.6 1124.0,407.9 1125.6,409.2 1127.1,410.5 1128.6,411.8 1130.1,413.1 1131.7,414.3 1133.2,415.6 1134.7,416.8 1136.3,418.1 1137.8,419.3 1139.4,420.5 1141.0,421.7 1142.5,422.9 1144.1,424.1 1145.7,425.3 1147.3,426.5 1148.9,427.7 1150.5,428.9 1152.1,430.0 1153.7,431.2 1155.3,432.3 1156.9,433.5 1158.5,434.6 1160.2,435.7 1161.8,436.8 1163.5,437.9 1165.1,439.0 1166.8,440.1 1168.5,441.1 1170.2,442.2 1171.9,443.3 1173.6,444.3 1175.3,445.3 1177.0,446.3 1178.7,447.3 1180.4,448.3 1182.2,449.3 1183.9,450.3 1185.7,451.3 1187.4,452.2 1189.2,453.2 1191.0,454.1 1192.7,455.0 1194.5,455.9 1196.3,456.8 1198.1,457.7 1199.9,458.5 1201.7,459.4 1203.5,460.2 1205.3,461.1 1207.1,461.9 1209.0,462.7 1210.8,463.5 1212.6,464.3 1214.5,465.1 1216.3,465.8 1218.2,466.6 1220.0,467.3 1221.9,468.1 1223.7,468.8 1225.6,469.5 1227.5,470.2 1229.3,470.9 1231.2,471.6 1233.1,472.3 1235.0,473.0 1236.9,473.7 1238.8,474.3 1240.6,475.0 1242.5,475.7 1244.4,476.3 1246.3,476.9 1248.2,477.6 1250.1,478.2 1252.1,478.8 1254.0,479.4 1255.9,480.0 1257.8,480.7 1259.7,481.3 1261.6,481.9 1263.5,482.5 1265.5,483.0 1267.4,483.6 1269.3,484.2 1271.2,484.8 1273.2,485.4 1275.1,486.0 1277.0,486.5 1279.0,487.1 1280.9,487.7 1282.8,488.3 1284.7,488.8 1286.7,489.4 1288.6,490.0 1290.5,490.6 1292.5,491.1 1294.4,491.7 1296.3,492.3 1298.3,492.8 1300.2,493.4 1302.1,494.0 1304.0,494.6 1306.0,495.1 1307.9,495.7 1309.8,496.3 1311.7,496.9 1313.7,497.5 1315.6,498.1 1317.5,498.7 1319.4,499.3 1321.3,499.9 1323.3,500.5 1325.2,501.1 1327.1,501.7 1329.0,502.3 1330.9,503.0 1332.8,503.6 1334.7,504.2 1336.6,504.9 1338.5,505.5 1340.4,506.2 1342.2,506.9 1344.1,507.6 1346.0,508.2 1347.9,508.9 1349.7,509.6 1351.6,510.3 1353.5,511.1 1355.3,511.8 1357.2,512.6 1359.0,513.3 1360.8,514.1 1362.6,514.9 1364.5,515.7 1366.3,516.5 1368.1,517.3 1369.9,518.1 1371.7,519.0 1373.4,519.8 1375.2,520.7 1377.0,521.6 1378.7,522.5 1380.5,523.5 1382.2,524.4 1383.9,525.4 1385.6,526.4 1387.3,527.4 1389.0,528.4 1390.7,529.4 1392.4,530.5 1394.0,531.6 1395.7,532.7 1397.3,533.8 1398.9,534.9 1400.5,536.1 1402.1,537.3 1403.7,538.5 1405.3,539.7 1406.9,540.9 1408.4,542.2 1409.9,543.5 1411.4,544.8 1412.9,546.1 1414.4,547.4 1415.9,548.8 1417.4,550.2 1418.8,551.5 1420.2,552.9 1421.6,554.4 1423.0,555.8 1424.4,557.3 1425.7,558.7 1427.1,560.2 1428.4,561.7 1429.7,563.2 1431.0,564.8 1432.3,566.3 1433.6,567.9 1434.8,569.4 1436.1,571.0 1437.3,572.6 1438.5,574.2 1439.7,575.8 1440.9,577.5 1442.1,579.1 1443.2,580.8 1444.4,582.4 1445.5,584.1 1446.6,585.7 1447.7,587.4 1448.8,589.1 1449.9,590.8 1451.0,592.5 1452.1,594.2 1453.1,595.9 1454.2,597.6 1455.2,599.4 1456.2,601.1 1457.2,602.8 1458.2,604.6 1459.2,606.3 1460.2,608.0 1461.2,609.8 1462.2,611.5 1463.1,613.3 1464.1,615.0 1465.0,616.8 1466.0,618.5 1466.9,620.3 1467.8,622.1 1468.7,623.8 1469.6,625.6 1470.6,627.4 1471.4,629.1 1472.3,630.9 1473.2,632.7 1474.1,634.5 1475.0,636.3 1475.8,638.1 1476.7,639.9 1477.6,641.6 1478.4,643.4 1479.3,645.2 1480.1,647.0 1481.0,648.8 1481.8,650.6 1482.6,652.4 1483.5,654.3 1484.3,656.1 1485.1,657.9 1486.0,659.7 1486.8,661.5 1487.6,663.3 1488.4,665.1 1489.2,667.0 1490.1,668.8 1490.9,670.6 1491.7,672.4 1492.5,674.2 1493.3,676.1 1494.1,677.9 1494.9,679.7 1495.7,681.6 1496.5,683.4 1497.3,685.2 1498.1,687.1 1498.9,688.9 1499.7,690.7 1500.5,692.6 1501.3,694.4 1502.0,696.3 1502.8,698.1 1503.6,699.9 1504.4,701.8 1505.2,703.6 1505.9,705.5 1506.7,707.3 1507.5,709.2 1508.2,711.0 1509.0,712.9 1509.8,714.7 1510.5,716.6 1511.3,718.5 1512.0,720.3 1512.8,722.2 1513.5,724.0 1514.3,725.9 1515.0,727.8 1515.8,729.6 1516.5,731.5 1517.3,733.3 1518.0,735.2 1518.7,737.1 1519.5,738.9 1520.2,740.8 1521.0,742.7 1521.7,744.5 1522.4,746.4 1523.1,748.3 1523.9,750.2 1524.6,752.0 1525.3,753.9 1526.0,755.8 1526.7,757.7 1527.4,759.5 1528.2,761.4 1528.9,763.3 1529.6,765.2 1530.3,767.0 1531.0,768.9 1531.7,770.8 1532.4,772.7 1533.1,774.6 1533.8,776.4 1534.5,778.3 1535.2,780.2 1535.9,782.1 1536.5,784.0 1537.2,785.9 1537.9,787.7 1538.6,789.6 1539.3,791.5 1540.0,793.4 1540.6,795.3 1541.3,797.2 1542.0,799.1 1542.7,800.9 1543.3,802.8 1544.0,804.7 1544.7,806.6 1545.3,808.5 1546.0,810.4 1546.6,812.3 1547.3,814.2 1547.9,816.1 1548.6,817.9 1549.3,819.8 1549.9,821.7 1550.6,823.6 1551.2,825.5 1551.8,827.4 1552.5,829.3 1553.1,831.2 1553.8,833.1 1554.4,835.0 1555.0,836.9 1555.7,838.7 1556.3,840.6 1556.9,842.5 1557.6,844.4 1558.2,846.3 1558.8,848.2 1559.4,850.1 1560.1,852.0 1560.7,853.9 1561.3,855.8 1561.9,857.6 1562.5,859.5 1563.2,861.4 1563.8,863.3 1564.4,865.2 1565.0,867.1 1565.6,869.0 1566.2,870.9 1566.9,872.8 1567.5,874.6 1568.1,876.5 1568.7,878.4 1569.3,880.3 1570.0,882.2 1570.6,884.1 1571.2,886.0 1571.8,887.9 1572.4,889.7 1573.1,891.6 1573.7,893.5 1574.3,895.4 1575.0,897.3 1575.6,899.2 1576.2,901.0 1576.8,902.9 1577.5,904.8 1578.1,906.7 1578.8,908.6 1579.4,910.5 1580.1,912.3 1580.7,914.2 1581.3,916.1 1582.0,918.0 1582.7,919.8 1583.3,921.7 1584.0,923.6 1584.6,925.5 1585.3,927.4 1586.0,929.2 1586.6,931.1 1587.3,933.0 1588.0,934.9 1588.7,936.7 1589.4,938.6 1590.1,940.5 1590.8,942.3 1591.5,944.2 1592.2,946.1 1592.9,947.9 1593.6,949.8 1594.3,951.7 1595.0,953.5 1595.8,955.4 1596.5,957.3 1597.2,959.1 1598.0,961.0 1598.7,962.9 1599.5,964.7 1600.2,966.6 1601.0,968.4 1601.8,970.3 1602.6,972.2 1603.3,974.0 1604.1,975.9 1604.9,977.7 1605.7,979.6 1606.5,981.4 1607.3,983.3 1608.2,985.1 1609.0,987.0 1609.8,988.8 1610.7,990.7 1611.5,992.5 1612.4,994.4 1613.3,996.2 1614.1,998.0 1615.0,999.8 1615.9,1001.6 1616.9,1003.5 1617.8,1005.2 1618.8,1007.0 1619.7,1008.8 1620.7,1010.6 1621.7,1012.3 1622.8,1014.1 1623.8,1015.8 1624.9,1017.5 1625.9,1019.2 1627.0,1020.9 1628.2,1022.6 1629.3,1024.2 1630.5,1025.9 1631.7,1027.5 1632.9,1029.1 1634.1,1030.7 1635.4,1032.3 1636.7,1033.8 1638.0,1035.3 1639.4,1036.8 1640.8,1038.3 1642.2,1039.8 1643.6,1041.2 1645.0,1042.6 1646.5,1044.0 1648.0,1045.3 1649.5,1046.7 1651.0,1048.0 1652.6,1049.2 1654.2,1050.5 1655.8,1051.7 1657.4,1052.9 1659.0,1054.0 1660.7,1055.1 1662.3,1056.2 1664.0,1057.3 1665.7,1058.3 1667.4,1059.3 1669.1,1060.2 1670.9,1061.1 1672.6,1062.0 1674.4,1062.8 1676.2,1063.7 1677.9,1064.5 1679.7,1065.2 1681.6,1066.0 1683.4,1066.7 1685.2,1067.4 1687.0,1068.0 1688.9,1068.7 1690.7,1069.3 1692.6,1069.9 1694.5,1070.5 1696.3,1071.1 1698.2,1071.7 1700.1,1072.2 1702.0,1072.7 1703.8,1073.3 1705.7,1073.8 1707.6,1074.3 1709.5,1074.8 1711.4,1075.2 1713.3,1075.7 1715.2,1076.1 1717.1,1076.6 1719.1,1077.0 1721.0,1077.4 1722.9,1077.8 1724.8,1078.2 1726.7,1078.6 1728.7,1079.0 1730.6,1079.3 1732.5,1079.7 1734.5,1080.0 1736.4,1080.4 1738.4,1080.7 1740.3,1081.1 1742.3,1081.4 1744.2,1081.7 1746.2,1082.0 1748.1,1082.3 1750.1,1082.6 1752.0,1082.9 1754.0,1083.1 1756.0,1083.4 1757.9,1083.7 1759.9,1083.9 1761.9,1084.2 1763.9,1084.5 1765.8,1084.7 1767.8,1085.0 1769.8,1085.2 1771.8,1085.4 1773.8,1085.7 1775.8,1085.9 1777.8,1086.1 1779.8,1086.4 1781.7,1086.6 1783.7,1086.8 1785.7,1087.0 1787.7,1087.3 1789.7,1087.5 1791.7,1087.7 1793.7,1087.9 1795.7,1088.1 1797.8,1088.3 1799.8,1088.6 1801.8,1088.8 1803.8,1089.0 1805.8,1089.2 1807.8,1089.4 1809.8,1089.6 1811.8,1089.8 1813.8,1090.0 1815.9,1090.2 1817.9,1090.4 1819.9,1090.6 1821.9,1090.7 1823.9,1090.9 1826.0,1091.1 1828.0,1091.3 1830.0,1091.5 1832.0,1091.7 1834.0,1091.9 1836.1,1092.0 1838.1,1092.2 1840.1,1092.4 1842.1,1092.6 1844.2,1092.8 1846.2,1092.9 1848.2,1093.1 1850.2,1093.3 1852.3,1093.4 1854.3,1093.6 1856.3,1093.8 1858.3,1093.9 1860.4,1094.1 1862.4,1094.3 1864.4,1094.4 1866.4,1094.6 1868.5,1094.8 1870.5,1094.9 1872.5,1095.1 1874.5,1095.2 1876.5,1095.4 1878.6,1095.5 1880.6,1095.7 1882.6,1095.9 1884.6,1096.0 1886.6,1096.2 1888.7,1096.3 1890.7,1096.5 1892.7,1096.6 1894.7,1096.8 1896.7,1096.9 1898.7,1097.1 1900.8,1097.2 1902.8,1097.4 1904.8,1097.5 1906.8,1097.6 1908.8,1097.8 1910.8,1097.9 1912.8,1098.1 1914.8,1098.2 1916.8,1098.4 1918.8,1098.5 1920.8,1098.6 1922.8,1098.8 1924.8,1098.9 1926.8,1099.1 1928.8,1099.2 1930.8,1099.3 1932.8,1099.5 1934.8,1099.6 1936.8,1099.7 1938.8,1099.9 1940.8,1100.0 1942.8,1100.1 1944.8,1100.3 1946.8,1100.4 1948.8,1100.5 1950.8,1100.7 1952.8,1100.8 1954.8,1100.9 1956.8,1101.0 1958.8,1101.2 1960.7,1101.3 1962.7,1101.4 1964.7,1101.6 1966.7,1101.7 1968.7,1101.8 1970.7,1101.9 1972.7,1102.0 1974.7,1102.2 1976.7,1102.3 1978.6,1102.4 1980.6,1102.5 1982.6,1102.7 1984.6,1102.8 1986.6,1102.9 1988.6,1103.0 1990.5,1103.1 1992.5,1103.3 1994.5,1103.4 1996.5,1103.5 1998.5,1103.6 2000.5,1103.7 2002.4,1103.8 2004.4,1103.9 2006.4,1104.1 2008.4,1104.2 2010.4,1104.3 2012.3,1104.4 2014.3,1104.5 2016.3,1104.6 2018.3,1104.7 2020.3,1104.8 2022.2,1105.0 2024.2,1105.1 2026.2,1105.2 2028.2,1105.3 2030.2,1105.4 2032.1,1105.5 2034.1,1105.6 2036.1,1105.7 2038.1,1105.8 2040.0,1105.9 2042.0,1106.0 2044.0,1106.1 2046.0,1106.2 2048.0,1106.3 2049.9,1106.5 2051.9,1106.6 2053.9,1106.7 2055.9,1106.8 2057.8,1106.9 2059.8,1107.0 2061.8,1107.1 2063.8,1107.2 2065.8,1107.3 2067.7,1107.4 2069.7,1107.5 2071.7,1107.6 2073.7,1107.7 2075.7,1107.8 2077.6,1107.9 2079.6,1108.0 2081.6,1108.1 2083.6,1108.2 2085.6,1108.3 2087.5,1108.3 2089.5,1108.4 2091.5,1108.5 2093.5,1108.6 2095.5,1108.7 2097.5,1108.8 2099.4,1108.9 2101.4,1109.0 2103.4,1109.1 2105.4,1109.2 2107.4,1109.3 2109.4,1109.4 2111.3,1109.5 2113.3,1109.6 2115.3,1109.7 2117.3,1109.8 2119.3,1109.8 2121.3,1109.9 2123.3,1110.0 2125.3,1110.1 2127.3,1110.2 2129.2,1110.3 2131.2,1110.4 2133.2,1110.5 2135.2,1110.6 2137.2,1110.7 2139.2,1110.7 2141.2,1110.8 2143.2,1110.9 2145.2,1111.0 2147.2,1111.1 2149.2,1111.2 2151.2,1111.3 2153.2,1111.4 2155.2,1111.4 2157.2,1111.5 2159.2,1111.6 2161.2,1111.7 2163.2,1111.8 2165.2,1111.9 2167.2,1112.0 2169.2,1112.0 2171.2,1112.1 2173.2,1112.2 2175.2,1112.3 2177.2,1112.4 2179.2,1112.5 2181.2,1112.5 2183.2,1112.6 2185.2,1112.7 2187.3,1112.8 2189.3,1112.9 2191.3,1113.0 2193.3,1113.0 2195.3,1113.1 2197.3,1113.2 2199.3,1113.3 2201.4,1113.4 2203.4,1113.5 2205.4,1113.5 2207.4,1113.6 2209.4,1113.7 2211.5,1113.8 2213.5,1113.9 2215.5,1114.0 2217.5,1114.0 2219.6,1114.1 2221.6,1114.2 2223.6,1114.3 2225.7,1114.4 2227.7,1114.4 2229.7,1114.5 2231.8,1114.6 2233.8,1114.7 2235.8,1114.8 2237.9,1114.8 2238.0,1114.8" stroke="#f00"/>
<path d="M290.0,172.5L292.3,171.5 294.3,171.5 296.2,171.4 298.1,171.5 300.1,171.6 302.0,171.7 303.9,171.9 305.8,172.2 307.7,172.4 309.6,172.8 311.5,173.1 313.4,173.5 315.3,173.9 317.2,174.4 319.1,174.9 321.0,175.5 322.9,176.0 324.8,176.6 326.7,177.2 328.6,177.9 330.4,178.5 332.3,179.2 334.2,179.9 336.1,180.6 338.0,181.4 339.8,182.1 341.7,182.9 343.6,183.6 345.4,184.4 347.3,185.2 349.2,186.0 351.0,186.7 352.9,187.5 354.8,188.3 356.6,189.1 358.5,189.9 360.3,190.7 362.2,191.5 364.1,192.2 365.9,193.0 367.8,193.8 369.6,194.6 371.5,195.4 373.3,196.1 375.2,196.9 377.0,197.7 378.9,198.5 380.8,199.2 382.6,200.0 384.5,200.8 386.3,201.5 388.2,202.3 390.0,203.1 391.9,203.8 393.8,204.6 395.6,205.3 397.5,206.1 399.3,206.8 401.2,207.5 403.1,208.3 404.9,209.0 406.8,209.7 408.6,210.5 410.5,211.2 412.4,211.9 414.2,212.6 416.1,213.3 418.0,214.0 419.9,214.7 421.7,215.4 423.6,216.1 425.5,216.8 427.4,217.5 429.3,218.1 431.1,218.8 433.0,219.5 434.9,220.1 436.8,220.8 438.7,221.4 440.6,222.1 442.5,222.7 444.4,223.3 446.3,224.0 448.2,224.6 450.1,225.2 452.0,225.8 453.9,226.4 455.8,227.0 457.7,227.6 459.6,228.2 461.5,228.7 463.4,229.3 465.4,229.9 467.3,230.5 469.2,231.0 471.1,231.6 473.0,232.1 475.0,232.6 476.9,233.2 478.8,233.7 480.7,234.2 482.7,234.8 484.6,235.3 486.5,235.8 488.5,236.3 490.4,236.8 492.3,237.3 494.3,237.7 496.2,238.2 498.1,238.7 500.1,239.2 502.0,239.6 504.0,240.1 505.9,240.5 507.9,241.0 509.8,241.4 511.7,241.8 513.7,242.2 515.6,242.7 517.6,243.1 519.6,243.5 521.5,243.9 523.5,244.3 525.4,244.6 527.4,245.0 529.3,245.4 531.3,245.8 533.3,246.1 535.2,246.5 537.2,246.8 539.2,247.2 541.1,247.5 543.1,247.8 545.1,248.2 547.0,248.5 549.0,248.8 551.0,249.1 552.9,249.4 554.9,249.7 556.9,250.0 558.9,250.3 560.8,250.5 562.8,250.8 564.8,251.0 566.8,251.3 568.7,251.5 570.7,251.8 572.7,252.0 574.7,252.2 576.7,252.5 578.7,252.7 580.6,252.9 582.6,253.1 584.6,253.3 586.6,253.5 588.6,253.6 590.6,253.8 592.6,254.0 594.6,254.2 596.5,254.3 598.5,254.5 600.5,254.6 602.5,254.8 604.5,254.9 606.5,255.0 608.5,255.1 610.5,255.3 612.5,255.4 614.5,255.5 616.5,255.6 618.5,255.7 620.5,255.8 622.5,255.9 624.5,256.0 626.5,256.1 628.5,256.1 630.5,256.2 632.5,256.3 634.5,256.4 636.5,256.4 638.5,256.5 640.5,256.5 642.5,256.6 644.5,256.7 646.5,256.7 648.5,256.7 650.5,256.8 652.5,256.8 654.5,256.9 656.5,256.9 658.5,256.9 660.5,256.9 662.5,257.0 664.5,257.0 666.6,257.0 668.6,257.0 670.6,257.1 672.6,257.1 674.6,257.1 676.6,257.1 678.6,257.1 680.6,257.1 682.6,257.1 684.6,257.1 686.6,257.1 688.6,257.1 690.7,257.1 692.7,257.1 694.7,257.1 696.7,257.1 698.7,257.1 700.7,257.1 702.7,257.1 704.7,257.1 706.7,257.1 708.7,257.1 710.7,257.1 712.8,257.1 714.8,257.1 716.8,257.1 718.8,257.1 720.8,257.1 722.8,257.1 724.8,257.1 726.8,257.1 728.8,257.1 730.8,257.1 732.8,257.1 734.9,257.1 736.9,257.1 738.9,257.1 740.9,257.1 742.9,257.1 744.9,257.1 746.9,257.1 748.9,257.1 750.9,257.1 752.9,257.2 754.9,257.2 756.9,257.2 758.9,257.2 760.9,257.3 762.9,257.3 764.9,257.3 766.9,257.4 768.9,257.4 770.9,257.5 772.9,257.6 774.9,257.6 776.9,257.7 778.9,257.8 780.9,257.8 782.9,257.9 784.9,258.0 786.9,258.1 788.9,258.2 790.9,258.3 792.9,258.4 794.9,258.6 796.9,258.7 798.9,258.8 800.9,259.0 802.8,259.1 804.8,259.3 806.8,259.5 808.8,259.6 810.8,259.8 812.8,260.0 814.7,260.2 816.7,260.4 818.7,260.6 820.7,260.9 822.6,261.1 824.6,261.4 826.6,261.6 828.6,261.9 830.5,262.2 832.5,262.4 834.5,262.7 836.4,263.0 838.4,263.4 840.4,263.7 842.3,264.0 844.3,264.4 846.2,264.7 848.2,265.1 850.2,265.5 852.1,265.9 854.1,266.3 856.0,266.7 858.0,267.1 859.9,267.6 861.9,268.0 863.8,268.5 865.7,268.9 867.7,269.4 869.6,269.9 871.6,270.4 873.5,270.9 875.4,271.4 877.4,271.9 879.3,272.4 881.2,273.0 883.1,273.5 885.1,274.1 887.0,274.6 888.9,275.2 890.8,275.8 892.7,276.3 894.6,276.9 896.6,277.5 898.5,278.1 900.4,278.7 902.3,279.4 904.2,280.0 906.1,280.6 908.0,281.3 909.9,281.9 911.8,282.6 913.6,283.2 915.5,283.9 917.4,284.6 919.3,285.3 921.2,286.0 923.1,286.6 924.9,287.4 926.8,288.1 928.7,288.8 930.5,289.5 932.4,290.2 934.3,291.0 936.1,291.7 938.0,292.5 939.8,293.2 941.7,294.0 943.5,294.8 945.4,295.5 947.2,296.3 949.1,297.1 950.9,297.9 952.7,298.7 954.6,299.5 956.4,300.3 958.2,301.2 960.0,302.0 961.8,302.8 963.7,303.7 965.5,304.5 967.3,305.4 969.1,306.2 970.9,307.1 972.7,308.0 974.5,308.9 976.3,309.8 978.1,310.7 979.9,311.5 981.6,312.5 983.4,313.4 985.2,314.3 987.0,315.2 988.7,316.1 990.5,317.1 992.3,318.0 994.0,319.0 995.8,319.9 997.6,320.9 999.3,321.8 1001.0,322.8 1002.8,323.8 1004.5,324.8 1006.3,325.7 1008.0,326.7 1009.7,327.7 1011.4,328.8 1013.2,329.8 1014.9,330.8 1016.6,331.8 1018.3,332.8 1020.0,333.9 1021.7,334.9 1023.4,336.0 1025.0,337.1 1026.7,338.1 1028.4,339.2 1030.1,340.3 1031.7,341.4 1033.4,342.5 1035.0,343.6 1036.6,344.8 1038.3,345.9 1039.9,347.0 1041.5,348.2 1043.1,349.4 1044.7,350.5 1046.3,351.7 1047.9,352.9 1049.5,354.1 1051.0,355.3 1052.6,356.6 1054.1,357.8 1055.7,359.0 1057.2,360.3 1058.7,361.6 1060.2,362.8 1061.7,364.1 1063.2,365.4 1064.7,366.8 1066.2,368.1 1067.6,369.4 1069.1,370.8 1070.5,372.2 1072.0,373.5 1073.4,374.9 1074.8,376.3 1076.2,377.7 1077.6,379.2 1079.0,380.6 1080.4,382.0 1081.7,383.5 1083.1,384.9 1084.4,386.4 1085.8,387.9 1087.1,389.4 1088.5,390.9 1089.8,392.4 1091.1,393.9 1092.4,395.4 1093.8,396.9 1095.1,398.4 1096.4,400.0 1097.7,401.5 1099.0,403.1 1100.3,404.6 1101.5,406.2 1102.8,407.7 1104.1,409.3 1105.4,410.8 1106.7,412.4 1108.0,414.0 1109.2,415.5 1110.5,417.1 1111.8,418.7 1113.0,420.3 1114.3,421.8 1115.6,423.4 1116.9,425.0 1118.1,426.6 1119.4,428.1 1120.7,429.7 1121.9,431.3 1123.2,432.9 1124.5,434.4 1125.7,436.0 1127.0,437.6 1128.3,439.2 1129.6,440.7 1130.9,442.3 1132.1,443.9 1133.4,445.4 1134.7,447.0 1136.0,448.6 1137.3,450.1 1138.6,451.7 1139.9,453.2 1141.2,454.7 1142.5,456.3 1143.8,457.8 1145.1,459.4 1146.4,460.9 1147.7,462.4 1149.0,463.9 1150.3,465.4 1151.7,466.9 1153.0,468.4 1154.3,469.9 1155.7,471.4 1157.0,472.9 1158.4,474.4 1159.7,475.8 1161.1,477.3 1162.4,478.7 1163.8,480.2 1165.2,481.6 1166.6,483.0 1168.0,484.5 1169.4,485.9 1170.8,487.3 1172.2,488.7 1173.6,490.0 1175.0,491.4 1176.5,492.8 1177.9,494.1 1179.3,495.5 1180.8,496.8 1182.3,498.1 1183.7,499.5 1185.2,500.8 1186.7,502.1 1188.1,503.4 1189.6,504.7 1191.1,506.0 1192.6,507.2 1194.1,508.5 1195.6,509.8 1197.1,511.1 1198.6,512.3 1200.1,513.6 1201.6,514.9 1203.1,516.1 1204.6,517.4 1206.2,518.7 1207.7,519.9 1209.2,521.2 1210.7,522.5 1212.2,523.7 1213.7,525.0 1215.2,526.3 1216.7,527.6 1218.2,528.8 1219.7,530.1 1221.2,531.4 1222.7,532.7 1224.2,534.0 1225.6,535.3 1227.1,536.7 1228.6,538.0 1230.1,539.3 1231.5,540.7 1233.0,542.0 1234.4,543.4 1235.9,544.8 1237.3,546.2 1238.7,547.5 1240.2,548.9 1241.6,550.3 1243.0,551.8 1244.4,553.2 1245.8,554.6 1247.2,556.1 1248.6,557.5 1250.0,559.0 1251.4,560.4 1252.8,561.9 1254.1,563.3 1255.5,564.8 1256.9,566.3 1258.3,567.8 1259.6,569.3 1261.0,570.8 1262.3,572.3 1263.7,573.8 1265.1,575.3 1266.4,576.8 1267.8,578.3 1269.1,579.8 1270.5,581.3 1271.8,582.8 1273.1,584.3 1274.5,585.8 1275.8,587.4 1277.2,588.9 1278.5,590.4 1279.8,591.9 1281.2,593.4 1282.5,595.0 1283.9,596.5 1285.2,598.0 1286.5,599.5 1287.9,601.0 1289.2,602.5 1290.6,604.0 1291.9,605.6 1293.3,607.1 1294.6,608.6 1296.0,610.1 1297.3,611.6 1298.7,613.0 1300.0,614.5 1301.4,616.0 1302.8,617.5 1304.1,619.0 1305.5,620.4 1306.9,621.9 1308.2,623.4 1309.6,624.8 1311.0,626.3 1312.3,627.8 1313.7,629.2 1315.1,630.7 1316.5,632.1 1317.8,633.6 1319.2,635.0 1320.6,636.5 1322.0,637.9 1323.3,639.4 1324.7,640.8 1326.1,642.2 1327.4,643.7 1328.8,645.1 1330.2,646.6 1331.5,648.0 1332.9,649.5 1334.3,650.9 1335.6,652.4 1337.0,653.9 1338.3,655.3 1339.6,656.8 1341.0,658.2 1342.3,659.7 1343.6,661.2 1345.0,662.7 1346.3,664.1 1347.6,665.6 1348.9,667.1 1350.2,668.6 1351.5,670.1 1352.8,671.6 1354.1,673.1 1355.3,674.6 1356.6,676.1 1357.9,677.7 1359.1,679.2 1360.4,680.7 1361.6,682.3 1362.9,683.8 1364.1,685.4 1365.3,686.9 1366.5,688.5 1367.7,690.1 1368.9,691.6 1370.1,693.2 1371.3,694.8 1372.5,696.4 1373.7,698.0 1374.8,699.6 1376.0,701.2 1377.2,702.8 1378.3,704.4 1379.5,706.0 1380.6,707.7 1381.7,709.3 1382.9,710.9 1384.0,712.6 1385.1,714.2 1386.2,715.9 1387.3,717.5 1388.4,719.2 1389.5,720.8 1390.6,722.5 1391.7,724.1 1392.8,725.8 1393.9,727.5 1394.9,729.2 1396.0,730.9 1397.1,732.5 1398.1,734.2 1399.2,735.9 1400.2,737.6 1401.2,739.3 1402.3,741.0 1403.3,742.8 1404.3,744.5 1405.4,746.2 1406.4,747.9 1407.4,749.6 1408.4,751.4 1409.4,753.1 1410.4,754.8 1411.4,756.6 1412.4,758.3 1413.3,760.0 1414.3,761.8 1415.3,763.5 1416.3,765.3 1417.2,767.1 1418.2,768.8 1419.2,770.6 1420.1,772.3 1421.1,774.1 1422.0,775.9 1423.0,777.6 1423.9,779.4 1424.8,781.2 1425.8,783.0 1426.7,784.7 1427.6,786.5 1428.6,788.3 1429.5,790.1 1430.4,791.9 1431.3,793.7 1432.2,795.5 1433.1,797.3 1434.0,799.1 1434.9,800.9 1435.8,802.7 1436.7,804.5 1437.6,806.3 1438.5,808.1 1439.4,809.9 1440.3,811.7 1441.1,813.5 1442.0,815.3 1442.9,817.1 1443.8,818.9 1444.6,820.8 1445.5,822.6 1446.4,824.4 1447.2,826.2 1448.1,828.0 1448.9,829.9 1449.8,831.7 1450.6,833.5 1451.5,835.3 1452.3,837.2 1453.2,839.0 1454.0,840.8 1454.9,842.6 1455.7,844.5 1456.5,846.3 1457.4,848.1 1458.2,849.9 1459.0,851.8 1459.9,853.6 1460.7,855.4 1461.5,857.3 1462.4,859.1 1463.2,860.9 1464.0,862.8 1464.8,864.6 1465.7,866.4 1466.5,868.3 1467.3,870.1 1468.1,871.9 1468.9,873.7 1469.7,875.6 1470.6,877.4 1471.4,879.2 1472.2,881.1 1473.0,882.9 1473.8,884.7 1474.6,886.6 1475.4,888.4 1476.2,890.2 1477.0,892.1 1477.9,893.9 1478.7,895.7 1479.5,897.6 1480.3,899.4 1481.1,901.2 1481.9,903.1 1482.7,904.9 1483.5,906.7 1484.3,908.6 1485.1,910.4 1485.9,912.2 1486.7,914.0 1487.5,915.9 1488.3,917.7 1489.1,919.5 1489.9,921.3 1490.7,923.2 1491.5,925.0 1492.4,926.8 1493.2,928.6 1494.0,930.4 1494.8,932.3 1495.6,934.1 1496.4,935.9 1497.2,937.7 1498.0,939.5 1498.8,941.4 1499.6,943.2 1500.4,945.0 1501.3,946.8 1502.1,948.6 1502.9,950.4 1503.7,952.2 1504.5,954.0 1505.3,955.8 1506.2,957.6 1507.0,959.4 1507.8,961.2 1508.6,963.0 1509.5,964.8 1510.3,966.6 1511.1,968.4 1511.9,970.2 1512.8,972.0 1513.6,973.8 1514.4,975.6 1515.3,977.4 1516.1,979.2 1517.0,981.0 1517.8,982.8 1518.6,984.6 1519.5,986.4 1520.3,988.2 1521.2,989.9 1522.0,991.7 1522.9,993.5 1523.7,995.3 1524.6,997.1 1525.5,998.9 1526.3,1000.7 1527.2,1002.4 1528.1,1004.2 1528.9,1006.0 1529.8,1007.8 1530.7,1009.6 1531.6,1011.3 1532.4,1013.1 1533.3,1014.9 1534.2,1016.7 1535.1,1018.5 1536.0,1020.2 1536.9,1022.0 1537.8,1023.8 1538.7,1025.6 1539.6,1027.3 1540.5,1029.1 1541.4,1030.9 1542.3,1032.7 1543.3,1034.4 1544.2,1036.2 1545.1,1038.0 1546.0,1039.8 1547.0,1041.5 1547.9,1043.3 1548.8,1045.1 1549.8,1046.9 1550.7,1048.6 1551.7,1050.4 1552.6,1052.2 1553.6,1054.0 1554.5,1055.7 1555.5,1057.5 1556.5,1059.3 1557.5,1061.0 1558.4,1062.8 1559.4,1064.6 1560.4,1066.4 1561.4,1068.1 1562.4,1069.9 1563.4,1071.6 1564.4,1073.4 1565.4,1075.2 1566.5,1076.9 1567.5,1078.7 1568.5,1080.4 1569.6,1082.2 1570.6,1083.9 1571.7,1085.6 1572.7,1087.4 1573.8,1089.1 1574.9,1090.8 1575.9,1092.5 1577.0,1094.3 1578.1,1096.0 1579.2,1097.7 1580.4,1099.4 1581.5,1101.0 1582.6,1102.7 1583.8,1104.4 1584.9,1106.1 1586.1,1107.7 1587.2,1109.4 1588.4,1111.0 1589.6,1112.6 1590.8,1114.3 1592.0,1115.9 1593.2,1117.5 1594.4,1119.1 1595.7,1120.7 1596.9,1122.2 1598.2,1123.8 1599.5,1125.4 1600.8,1126.9 1602.0,1128.4 1603.4,1130.0 1604.7,1131.5 1606.0,1133.0 1607.3,1134.4 1608.7,1135.9 1610.1,1137.4 1611.5,1138.8 1612.8,1140.3 1614.3,1141.7 1615.7,1143.1 1617.1,1144.5 1618.6,1145.8 1620.0,1147.2 1621.5,1148.5 1623.0,1149.8 1624.5,1151.1 1626.0,1152.3 1627.5,1153.6 1629.1,1154.8 1630.7,1156.0 1632.2,1157.2 1633.8,1158.3 1635.4,1159.4 1637.1,1160.5 1638.7,1161.6 1640.4,1162.6 1642.0,1163.6 1643.7,1164.6 1645.4,1165.5 1647.2,1166.5 1648.9,1167.4 1650.6,1168.2 1652.4,1169.1 1654.2,1169.9 1656.0,1170.7 1657.8,1171.5 1659.6,1172.2 1661.4,1173.0 1663.2,1173.7 1665.1,1174.4 1666.9,1175.0 1668.8,1175.7 1670.7,1176.3 1672.6,1176.9 1674.5,1177.5 1676.4,1178.1 1678.3,1178.6 1680.2,1179.2 1682.1,1179.7 1684.1,1180.2 1686.0,1180.7 1688.0,1181.2 1689.9,1181.6 1691.9,1182.1 1693.8,1182.5 1695.8,1183.0 1697.8,1183.4 1699.7,1183.8 1701.7,1184.2 1703.7,1184.6 1705.7,1184.9 1707.7,1185.3 1709.7,1185.6 1711.7,1186.0 1713.7,1186.3 1715.7,1186.7 1717.7,1187.0 1719.7,1187.3 1721.6,1187.6 1723.6,1187.9 1725.6,1188.2 1727.6,1188.5 1729.6,1188.8 1731.6,1189.1 1733.6,1189.4 1735.6,1189.7 1737.6,1190.0 1739.6,1190.2 1741.6,1190.5 1743.6,1190.8 1745.6,1191.0 1747.6,1191.3 1749.6,1191.5 1751.6,1191.8 1753.6,1192.0 1755.6,1192.2 1757.6,1192.5 1759.6,1192.7 1761.6,1192.9 1763.5,1193.1 1765.5,1193.3 1767.5,1193.5 1769.5,1193.7 1771.5,1193.9 1773.5,1194.1 1775.5,1194.3 1777.5,1194.5 1779.5,1194.7 1781.5,1194.9 1783.5,1195.1 1785.5,1195.2 1787.5,1195.4 1789.5,1195.6 1791.5,1195.8 1793.5,1195.9 1795.5,1196.1 1797.5,1196.2 1799.4,1196.4 1801.4,1196.5 1803.4,1196.7 1805.4,1196.8 1807.4,1197.0 1809.4,1197.1 1811.4,1197.3 1813.4,1197.4 1815.4,1197.5 1817.4,1197.7 1819.4,1197.8 1821.4,1197.9 1823.4,1198.1 1825.4,1198.2 1827.4,1198.3 1829.4,1198.4 1831.4,1198.5 1833.4,1198.7 1835.3,1198.8 1837.3,1198.9 1839.3,1199.0 1841.3,1199.1 1843.3,1199.2 1845.3,1199.3 1847.3,1199.4 1849.3,1199.6 1851.3,1199.7 1853.3,1199.8 1855.3,1199.9 1857.3,1200.0 1859.3,1200.1 1861.3,1200.2 1863.3,1200.3 1865.3,1200.4 1867.3,1200.5 1869.2,1200.6 1871.2,1200.7 1873.2,1200.8 1875.2,1200.9 1877.2,1201.0 1879.2,1201.1 1881.2,1201.2 1883.2,1201.3 1885.2,1201.4 1887.2,1201.5 1889.2,1201.6 1891.2,1201.7 1893.2,1201.7 1895.2,1201.8 1897.2,1201.9 1899.2,1202.0 1901.2,1202.1 1903.1,1202.2 1905.1,1202.4 1907.1,1202.5 1909.1,1202.6 1911.1,1202.7 1913.1,1202.8 1915.1,1202.9 1917.1,1203.0 1919.1,1203.1 1921.1,1203.2 1923.1,1203.3 1925.1,1203.4 1927.1,1203.5 1929.1,1203.6 1931.1,1203.7 1933.1,1203.8 1935.1,1203.9 1937.1,1204.0 1939.0,1204.1 1941.0,1204.2 1943.0,1204.3 1945.0,1204.4 1947.0,1204.5 1949.0,1204.7 1951.0,1204.8 1953.0,1204.9 1955.0,1205.0 1957.0,1205.1 1959.0,1205.2 1961.0,1205.3 1963.0,1205.4 1965.0,1205.5 1967.0,1205.6 1969.0,1205.7 1971.0,1205.8 1973.0,1205.9 1975.0,1206.1 1977.0,1206.2 1978.9,1206.3 1980.9,1206.4 1982.9,1206.5 1984.9,1206.6 1986.9,1206.7 1988.9,1206.8 1990.9,1206.9 1992.9,1207.0 1994.9,1207.1 1996.9,1207.2 1998.9,1207.3 2000.9,1207.4 2002.9,1207.5 2004.9,1207.6 2006.9,1207.8 2008.9,1207.9 2010.9,1208.0 2012.9,1208.1 2014.9,1208.2 2016.9,1208.3 2018.9,1208.4 2020.9,1208.5 2022.9,1208.6 2024.8,1208.7 2026.8,1208.8 2028.8,1208.9 2030.8,1209.0 2032.8,1209.1 2034.8,1209.2 2036.8,1209.3 2038.8,1209.4 2040.8,1209.5 2042.8,1209.6 2044.8,1209.7 2046.8,1209.8 2048.8,1209.9 2050.8,1210.0 2052.8,1210.1 2054.8,1210.2 2056.8,1210.3 2058.8,1210.3 2060.8,1210.4 2062.8,1210.5 2064.8,1210.6 2066.8,1210.7 2068.8,1210.8 2070.8,1210.9 2072.8,1211.0 2074.8,1211.1 2076.8,1211.2 2078.8,1211.2 2080.8,1211.3 2082.8,1211.4 2084.8,1211.5 2086.8,1211.6 2088.8,1211.7 2090.8,1211.8 2092.7,1211.8 2094.7,1211.9 2096.7,1212.0 2098.7,1212.1 2100.7,1212.2 2102.7,1212.2 2104.7,1212.3 2106.7,1212.4 2108.7,1212.5 2110.7,1212.5 2112.7,1212.6 2114.7,1212.7 2116.7,1212.7 2118.7,1212.8 2120.7,1212.9 2122.7,1213.0 2124.7,1213.0 2126.7,1213.1 2128.7,1213.2 2130.7,1213.2 2132.7,1213.3 2134.7,1213.3 2136.7,1213.4 2138.7,1213.5 2140.7,1213.5 2142.7,1213.6 2144.7,1213.6 2146.7,1213.7 2148.7,1213.7 2150.7,1213.8 2152.7,1213.8 2154.7,1213.9 2156.7,1213.9 2158.7,1214.0 2160.7,1214.0 2162.7,1214.1 2164.7,1214.1 2166.7,1214.2 2168.7,1214.2 2170.7,1214.3 2172.7,1214.3 2174.7,1214.3 2176.7,1214.4 2178.7,1214.4 2180.7,1214.4 2182.7,1214.5 2184.7,1214.5 2186.7,1214.5 2188.7,1214.6 2190.7,1214.6 2192.8,1214.6 2194.8,1214.6 2196.8,1214.6 2198.8,1214.7 2200.8,1214.7 2202.8,1214.7 2204.8,1214.7 2206.8,1214.7 2208.8,1214.7 2210.8,1214.8 2212.8,1214.8 2214.8,1214.8 2216.8,1214.8 2218.8,1214.8 2220.8,1214.8 2222.8,1214.8 2224.8,1214.8 2226.8,1214.8 2228.8,1214.8 2230.8,1214.8 2232.8,1214.8 2234.8,1214.8 2236.8,1214.8 2238.0,1214.7" stroke="#00f"/>
</g>
<path d="M754.5,246L760.5,254.5L766.5,247Z M2022,1101L2024,1096.5L2029.5,1096.5L2031,1101Z M2025,1107L2027.5,1111L2030,1107Z" fill="#f00"/>
<path d="M808.5,256H2059" stroke="#000" stroke-width="8" stroke-dasharray="40.8 34.86" fill="none"/>
<path d="M717.1,1368L1909,1370" stroke="#000" stroke-width="8" stroke-dasharray="41 34.5" fill="none"/>
<path d="M816,281.3V749" stroke="#000" stroke-width="4" stroke-dasharray="19 15.7" fill="none"/>
<path d="M804.6,749L828,749L815.8,794Z" fill="#000"/>
<path d="M814,968L816,1364" stroke="#000" stroke-width="4" stroke-dasharray="19 15.7" fill="none"/>
<path d="M801.8,963.5L826.2,963.5L814,919Z" fill="#000"/>
<text x="836" y="887" font-size="84" text-anchor="middle">86.03%</text>
<path d="M1828.5,254V611" stroke="#f07576" stroke-width="5" stroke-dasharray="18.5 16.2" fill="none"/>
<path d="M1817.1,610.5L1839.8,610.5L1828.5,653.5Z" fill="#f07576"/>
<path d="M1828.5,761V1091.5" stroke="#f07576" stroke-width="5" stroke-dasharray="18.5 16.2" fill="none"/>
<path d="M1817.1,763.7L1839.8,763.7L1828.5,719.4Z" fill="#f07576"/>
<path d="M1891.5,258V614" stroke="#2468e0" stroke-width="5" stroke-dasharray="18.4 16.3" fill="none"/>
<path d="M1880.2,613.2L1902.8,613.2L1891.5,657.7Z" fill="#2468e0"/>
<path d="M1891.5,762.8V1197.5" stroke="#2468e0" stroke-width="5" stroke-dasharray="18.4 16.3" fill="none"/>
<path d="M1880.2,763.7L1902.8,763.7L1891.5,719.4Z" fill="#2468e0"/>
<text transform="translate(1709,572) rotate(90)" font-size="84">66.30%</text>
<text transform="translate(1924,574) rotate(90)" font-size="84">74.12%</text>
<g stroke-width="8" stroke-linecap="round">
<path d="M850.5,132H1022.8" stroke="#000"/>
<path d="M1232,132H1404.8" stroke="#f00"/>
<path d="M1632.7,132H1804" stroke="#00f"/>
</g>
<text x="1043" y="157" font-size="78">OIM</text>
<text x="1424" y="157" font-size="78">PAM</text>
<text x="1823" y="157" font-size="78">OIM@PAM</text>
<rect x="287" y="45" width="1960" height="1396" fill="none" stroke="#000" stroke-width="6"/>
<rect x="284" y="42" width="1966" height="7" fill="#000"/>
</svg></body></html>
